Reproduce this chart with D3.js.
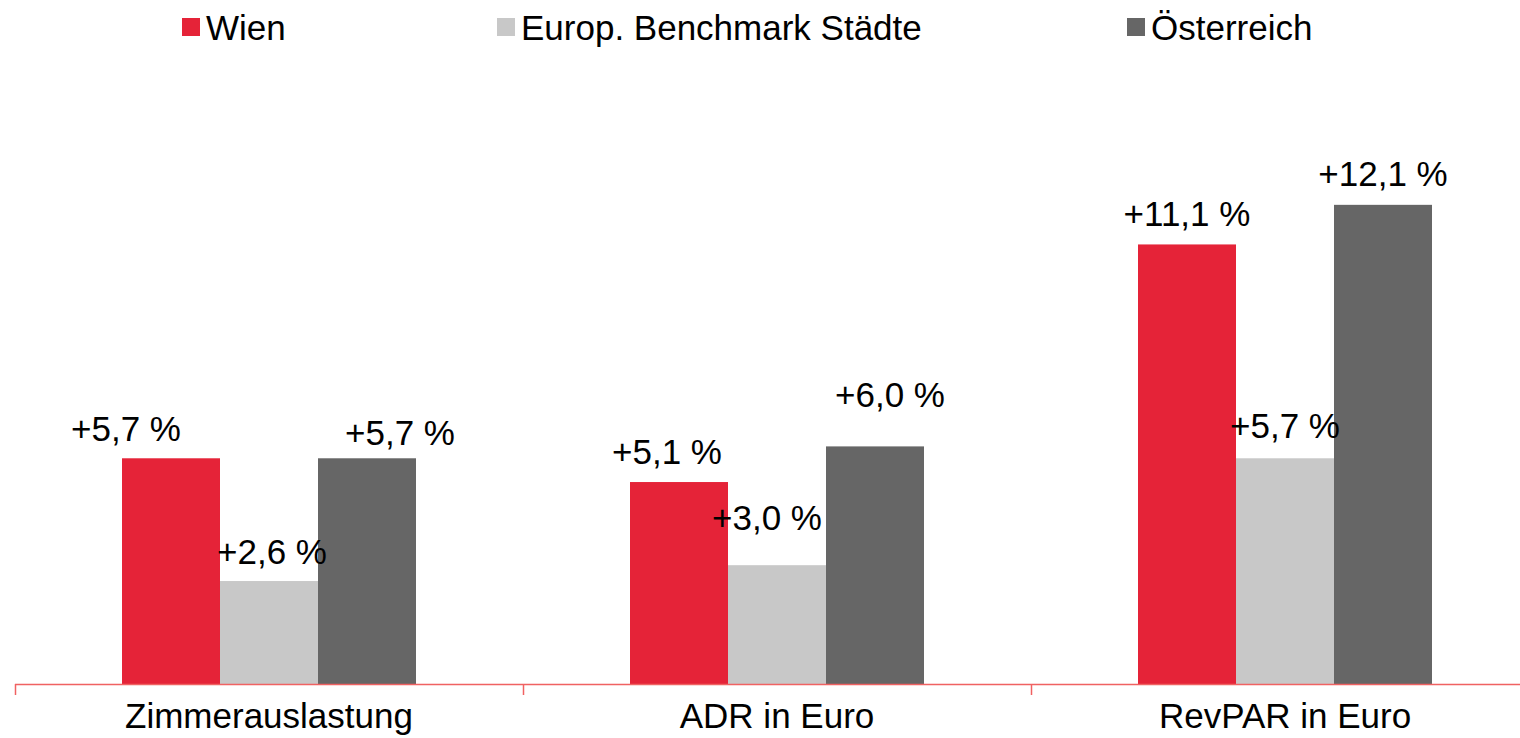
<!DOCTYPE html>
<html>
<head>
<meta charset="utf-8">
<script src="https://cdn.jsdelivr.net/npm/d3@7"></script>
<style>
  html, body { margin: 0; padding: 0; background: #fff; }
  svg { display: block; font-family: "Liberation Sans", Arial, sans-serif; }
</style>
</head>
<body>
<svg id="chart" width="1520" height="738"></svg>
<script>
// ---- data ----
const categories = ["Zimmerauslastung", "ADR in Euro", "RevPAR in Euro"];
const seriesNames = ["Wien", "Europ. Benchmark Städte", "Österreich"];
const wien = [5.7, 5.1, 11.1];
const benchmark = [2.6, 3.0, 5.7];
const oesterreich = [5.7, 6.0, 12.1];
const valueLabels = [
  ["+5,7 %", "+5,1 %", "+11,1 %"],
  ["+2,6 %", "+3,0 %", "+5,7 %"],
  ["+5,7 %", "+6,0 %", "+12,1 %"]
];

// ---- layout / style (not data) ----
const colors = ["#e52338", "#c8c8c8", "#666666"];
const W = 1520, H = 738;
const baseY = 684;
// manual label nudges as in the original (dx from bar centre, gap above bar top)
const labelDx = [[-45, -12, 0], [3, -10, 0], [33, 15, 0]];
const labelGap = [[17, 18, 18], [17, 35, 20], [13, 39, 19]];

const seriesValues = [wien, benchmark, oesterreich];
const svg = d3.select("#chart");

const x0 = d3.scaleBand().domain(categories).range([15, 1539]).paddingInner(0).paddingOuter(0);
const groupW = 294;
const x1 = d3.scaleBand().domain(seriesNames).range([0, groupW]).padding(0);
const y = d3.scaleLinear().domain([0, 14]).range([baseY, baseY - 14 * 39.6]);

// bars
seriesNames.forEach((s, si) => {
  const g = svg.append("g");
  g.selectAll("rect").data(categories).join("rect")
    .attr("x", c => x0(c) + (x0.bandwidth() - groupW) / 2 + x1(s))
    .attr("y", (c, ci) => y(seriesValues[si][ci]))
    .attr("width", x1.bandwidth())
    .attr("height", (c, ci) => y(0) - y(seriesValues[si][ci]))
    .attr("fill", colors[si]);
});

// value labels
seriesNames.forEach((s, si) => {
  svg.append("g").selectAll("text").data(categories).join("text")
    .attr("x", (c, ci) => x0(c) + (x0.bandwidth() - groupW) / 2 + x1(s) + x1.bandwidth() / 2 + labelDx[si][ci])
    .attr("y", (c, ci) => y(seriesValues[si][ci]) - labelGap[si][ci])
    .attr("text-anchor", "middle")
    .attr("font-size", 35)
    .attr("fill", "#000")
    .text((c, ci) => valueLabels[si][ci]);
});

// x axis
const axis = d3.axisBottom(x0).tickSize(0).tickPadding(0);
const ag = svg.append("g").attr("transform", `translate(0,${baseY + 0.5})`).call(axis);
ag.select(".domain").remove();
ag.selectAll("text").attr("font-size", 35).attr("fill", "#000")
  .attr("font-family", '"Liberation Sans", Arial, sans-serif')
  .attr("dy", null).attr("y", 43);
svg.append("line")
  .attr("x1", 15).attr("x2", W).attr("y1", baseY + 0.5).attr("y2", baseY + 0.5)
  .attr("stroke", "#f06262").attr("stroke-width", 1.5);
const boundaries = categories.map(c => x0(c));
svg.append("g").selectAll("line").data(boundaries).join("line")
  .attr("x1", d => d + 0.5).attr("x2", d => d + 0.5)
  .attr("y1", baseY).attr("y2", baseY + 11)
  .attr("stroke", "#f06262").attr("stroke-width", 1.5);

// legend
const legendX = [182, 497, 1127];
const lg = svg.append("g");
seriesNames.forEach((s, si) => {
  lg.append("rect").attr("x", legendX[si]).attr("y", 18).attr("width", 18).attr("height", 18).attr("fill", colors[si]);
  lg.append("text").attr("x", legendX[si] + 24).attr("y", 40).attr("font-size", 35).attr("fill", "#000").text(s);
});
</script>
</body>
</html>
